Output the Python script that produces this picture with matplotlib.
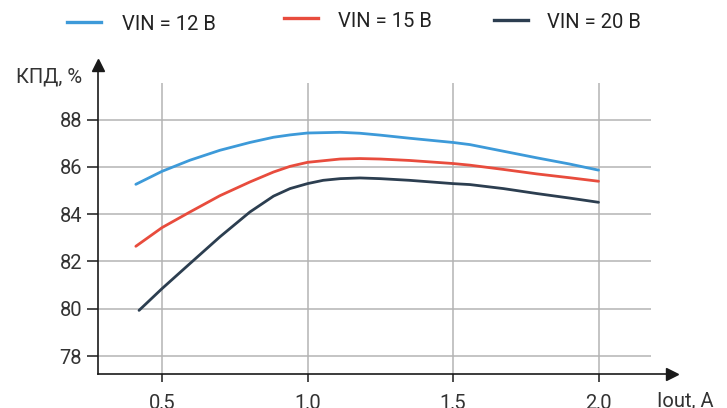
import matplotlib
matplotlib.use("Agg")
import matplotlib.pyplot as plt
from matplotlib.lines import Line2D

plt.rcParams['font.family'] = ['Roboto', 'DejaVu Sans']

# Data
x_12 = [0.41, 0.50, 0.596, 0.699, 0.802, 0.883, 0.94, 1.00, 1.112, 1.18, 1.25, 1.35, 1.50, 1.558, 1.673, 1.788, 1.90, 2.00]
y_12 = [85.26, 85.81, 86.28, 86.70, 87.03, 87.25, 87.35, 87.43, 87.46, 87.42, 87.34, 87.21, 87.03, 86.94, 86.66, 86.38, 86.12, 85.86]
x_15 = [0.41, 0.50, 0.596, 0.699, 0.802, 0.883, 0.94, 1.00, 1.112, 1.18, 1.25, 1.35, 1.50, 1.558, 1.673, 1.788, 1.90, 2.00]
y_15 = [82.64, 83.43, 84.09, 84.78, 85.36, 85.78, 86.02, 86.19, 86.33, 86.35, 86.33, 86.27, 86.14, 86.07, 85.89, 85.70, 85.54, 85.39]
x_20 = [0.421, 0.50, 0.596, 0.699, 0.802, 0.883, 0.94, 1.00, 1.054, 1.112, 1.18, 1.25, 1.35, 1.50, 1.558, 1.673, 1.788, 1.90, 2.00]
y_20 = [79.93, 80.85, 81.91, 83.04, 84.09, 84.76, 85.08, 85.29, 85.43, 85.50, 85.53, 85.50, 85.43, 85.29, 85.25, 85.08, 84.87, 84.68, 84.50]

series_labels = ['VIN = 12 В', 'VIN = 15 В', 'VIN = 20 В']
colors = ['#3d9ad9', '#e84c3d', '#2c3e50']

x_ticks = [0.5, 1.0, 1.5, 2.0]
x_tick_labels = ['0,5', '1,0', '1,5', '2,0']
y_ticks = [78, 80, 82, 84, 86, 88]
y_label = 'КПД, %'
x_label = 'Iout, A'

W, H = 727, 408
fig = plt.figure(figsize=(W / 100, H / 100), dpi=100)
ax_l, ax_r, ax_b, ax_t = 98, 672, 374, 65
ax = fig.add_axes([ax_l / W, 1 - ax_b / H, (ax_r - ax_l) / W, (ax_b - ax_t) / H])

xmin, xmax = 0.28, 0.28 + (ax_r - ax_l) / 291.0
ymin, ymax = 77.24, 77.24 + (ax_b - ax_t) / 23.65
ax.set_xlim(xmin, xmax)
ax.set_ylim(ymin, ymax)

grid_c = '#b4b4b4'
grid_top = 89.56
grid_right = 2.18
for yv in y_ticks:
    ax.plot([xmin, grid_right], [yv, yv], color=grid_c, lw=1.1, zorder=1, solid_capstyle='butt')
for xv in x_ticks:
    ax.plot([xv, xv], [ymin, grid_top], color=grid_c, lw=1.1, zorder=1, solid_capstyle='butt')

for xs, ys, c in zip([x_12, x_15, x_20], [y_12, y_15, y_20], colors):
    ax.plot(xs, ys, color=c, lw=2.0, zorder=3, solid_capstyle='round', solid_joinstyle='round')

for s in ['top', 'right']:
    ax.spines[s].set_visible(False)
axis_c = '#1a1a1a'
for s in ['left', 'bottom']:
    ax.spines[s].set_color(axis_c)
    ax.spines[s].set_linewidth(1.2)

# arrow heads
ax.plot([1], [0], marker='>', ms=9, color=axis_c, transform=ax.transAxes, clip_on=False, zorder=5)
ax.plot([0], [1], marker='^', ms=9, color=axis_c, transform=ax.transAxes, clip_on=False, zorder=5)

ax.set_xticks(x_ticks)
ax.set_xticklabels(x_tick_labels)
ax.set_yticks(y_ticks)
ax.set_yticklabels([str(v) for v in y_ticks])
ax.tick_params(axis='x', length=6, width=1.1, color=axis_c, pad=8, labelsize=14.5, labelcolor='#333333')
ax.tick_params(axis='y', length=8, width=1.1, color=axis_c, pad=3.5, labelsize=14.5, labelcolor='#333333')

fig.text(82 / W, 1 - 82 / H, y_label, ha='right', va='baseline', fontsize=14.5, color='#333333')
fig.text(657 / W, 1 - 407 / H, x_label, ha='left', va='baseline', fontsize=14.5, color='#333333')

# legend
leg = [(67, 101, 22, 122, 30), (284, 318, 18, 338, 27), (494, 528, 20, 547, 28)]
for (x0, x1, ly, tx, tb), lab, c in zip(leg, series_labels, colors):
    fig.add_artist(Line2D([x0 / W, x1 / W], [1 - ly / H, 1 - ly / H], color=c, lw=2.4,
                          transform=fig.transFigure))
    fig.text(tx / W, 1 - tb / H, lab, ha='left', va='baseline', fontsize=14.5, color='#222222')

fig.savefig('out.png', dpi=100)
